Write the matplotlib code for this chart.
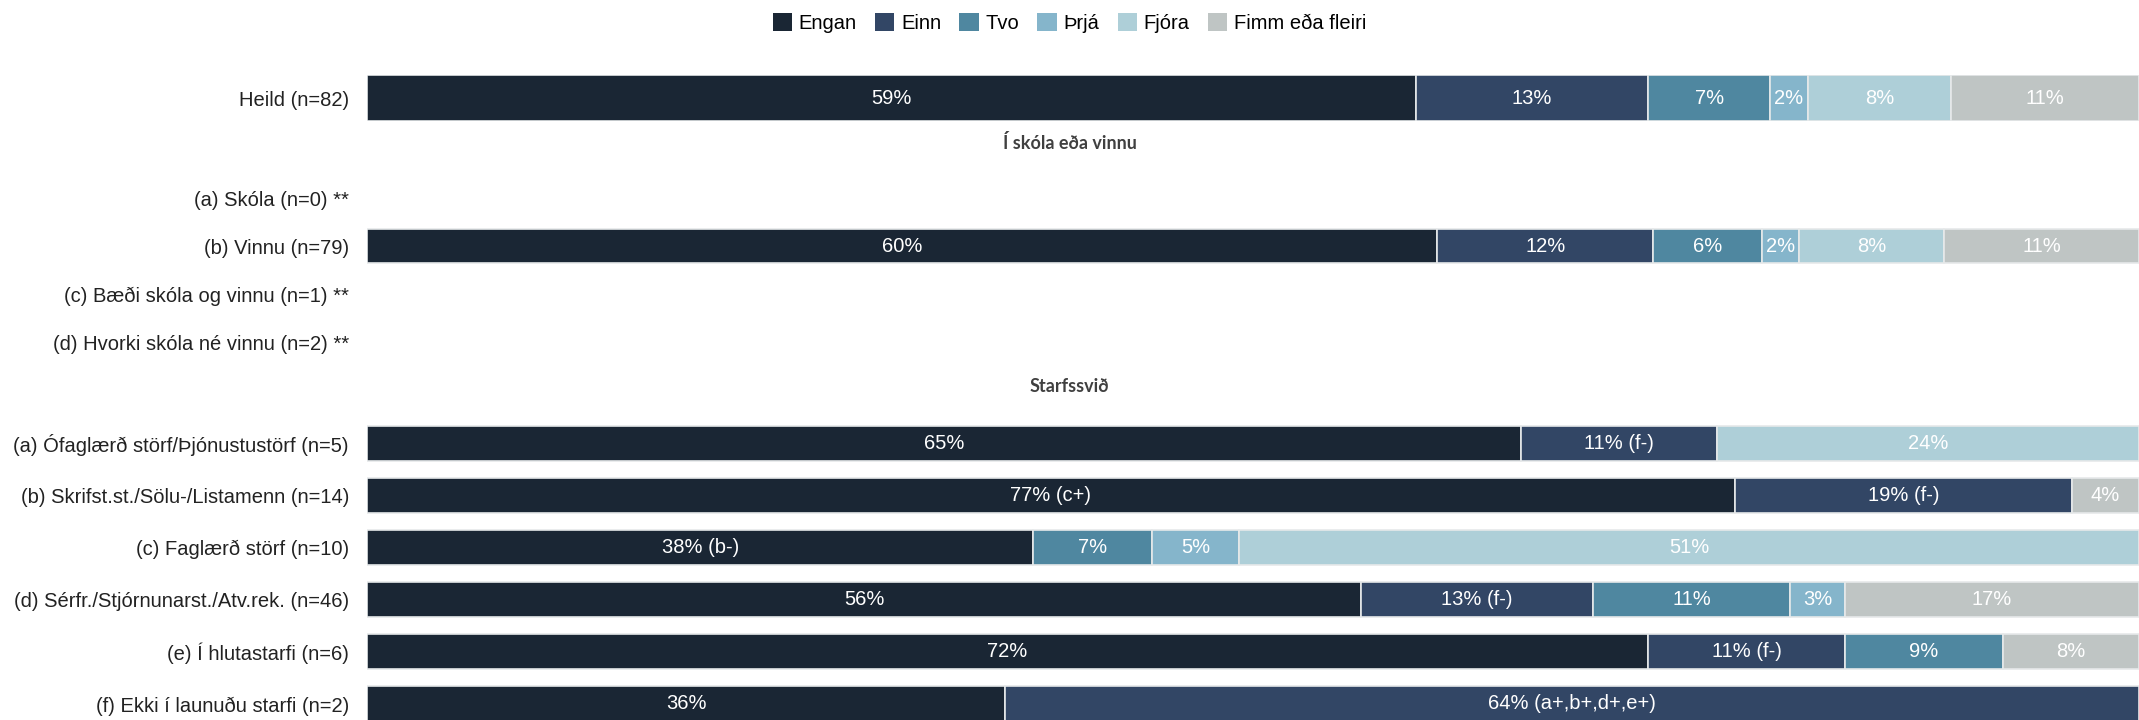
import matplotlib
matplotlib.use("Agg")
import matplotlib.pyplot as plt
from matplotlib.patches import Patch

# Flokkar og litir
categories = ["Engan", "Einn", "Tvo", "Þrjá", "Fjóra", "Fimm eða fleiri"]
colors = ["#1a2634", "#324665", "#4f87a0", "#85b5cb", "#aecfd8", "#bfc5c4"]

# Heild
heild_labels = ["Heild (n=82)"]
heild_vals = [[59.2, 13.1, 6.9, 2.1, 8.1, 10.6]]
heild_notes = [["", "", "", "", "", ""]]

# Í skóla eða vinnu
skoli_title = "Í skóla eða vinnu"
skoli_labels = ["(a) Skóla (n=0) **", "(b) Vinnu (n=79)",
                "(c) Bæði skóla og vinnu (n=1) **", "(d) Hvorki skóla né vinnu (n=2) **"]
skoli_vals = [None, [60.4, 12.2, 6.1, 2.1, 8.2, 11.0], None, None]
skoli_notes = [None, ["", "", "", "", "", ""], None, None]

# Starfssvið
starf_title = "Starfssvið"
starf_labels = ["(a) Ófaglærð störf/Þjónustustörf (n=5)",
                "(b) Skrifst.st./Sölu-/Listamenn (n=14)",
                "(c) Faglærð störf (n=10)",
                "(d) Sérfr./Stjórnunarst./Atv.rek. (n=46)",
                "(e) Í hlutastarfi (n=6)",
                "(f) Ekki í launuðu starfi (n=2)"]
starf_vals = [[65.1, 11.1, 0, 0, 23.8, 0],
              [77.2, 19.0, 0, 0, 0, 3.8],
              [37.6, 0, 6.7, 4.9, 50.8, 0],
              [56.1, 13.1, 11.1, 3.1, 0, 16.6],
              [72.3, 11.1, 8.9, 0, 0, 7.7],
              [36.0, 64.0, 0, 0, 0, 0]]
starf_notes = [["", "(f-)", "", "", "", ""],
               ["(c+)", "(f-)", "", "", "", ""],
               ["(b-)", "", "", "", "", ""],
               ["", "(f-)", "", "", "", ""],
               ["", "(f-)", "", "", "", ""],
               ["", "(a+,b+,d+,e+)", "", "", "", ""]]

W, H = 2139, 720
fig = plt.figure(figsize=(W / 100, H / 100), dpi=100)
label_font = ["Liberation Sans", "DejaVu Sans"]

left = 367 / W
width = 1 - left


def panel(top_px, bottom_px, labels, vals, notes, bar_h):
    ax = fig.add_axes([left, 1 - bottom_px / H, width, (bottom_px - top_px) / H])
    n = len(labels)
    for i, row in enumerate(vals):
        if row is None:
            continue
        start = 0
        for j, v in enumerate(row):
            if v <= 0:
                continue
            ax.barh(i, v, left=start, height=bar_h, color=colors[j],
                    edgecolor="#e6e9ea", linewidth=1.2)
            txt = f"{round(v)}%"
            if notes[i][j]:
                txt += " " + notes[i][j]
            ax.text(start + v / 2, i, txt, ha="center", va="center",
                    color="white", fontsize=14.5, family=label_font)
            start += v
    ax.set_xlim(0, 100)
    ax.set_ylim(n - 0.5, -0.5)
    ax.set_yticks(range(n))
    ax.set_yticklabels(labels, fontsize=14.5, family=label_font, color="#222222")
    ax.tick_params(axis="y", length=0, pad=13)
    ax.set_xticks([])
    for s in ax.spines.values():
        s.set_visible(False)
    return ax


panel(75, 121, heild_labels, heild_vals, heild_notes, 1.0)
panel(174, 366, skoli_labels, skoli_vals, skoli_notes, 0.69)
panel(417, 730, starf_labels, starf_vals, starf_notes, 0.67)

fig.text(0.5, 1 - 143 / H, skoli_title, ha="center", va="center",
         fontsize=13, fontweight="bold", color="#404040", family="Lato")
fig.text(0.5, 1 - 387 / H, starf_title, ha="center", va="center",
         fontsize=13, fontweight="bold", color="#404040", family="Lato")

handles = [Patch(facecolor=c, edgecolor="none") for c in colors]
fig.legend(handles, categories, loc="center", bbox_to_anchor=(0.5, 1 - 23 / H),
           ncol=6, frameon=False, prop={"family": label_font, "size": 14.5},
           handlelength=0.95, handleheight=0.95, columnspacing=0.9, handletextpad=0.35)

fig.savefig("out.png", dpi=100)
